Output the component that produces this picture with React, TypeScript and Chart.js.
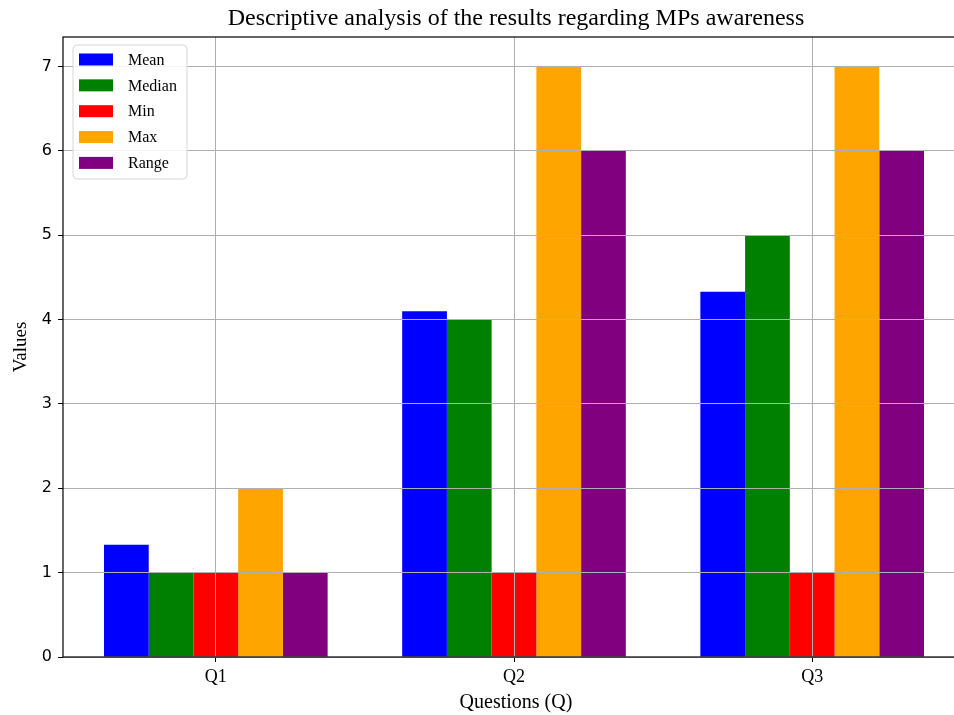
import React, { useEffect, useRef } from "react";
import { Chart, registerables } from "chart.js";

Chart.register(...registerables);

const categories = ["Q1", "Q2", "Q3"];
const seriesNames = ["Mean", "Median", "Min", "Max", "Range"];
const meanValues = [1.33, 4.1, 4.33];
const medianValues = [1, 4, 5];
const minValues = [1, 1, 1];
const maxValues = [2, 7, 7];
const rangeValues = [1, 6, 6];
const yTickValues = [0, 1, 2, 3, 4, 5, 6, 7];
const seriesColors = ["#0000ff", "#008000", "#ff0000", "#ffa500", "#800080"];

const TITLE = "Descriptive analysis of the results regarding MPs awareness";
const X_TITLE = "Questions (Q)";
const Y_TITLE = "Values";

const SERIF = '"Liberation Serif", "Times New Roman", serif';

const decorPlugin = {
  id: "decor",
  afterDraw(chart: any) {
    const { ctx, chartArea: a } = chart;
    ctx.save();
    // frame (spines)
    ctx.strokeStyle = "#000";
    ctx.lineWidth = 1.2;
    ctx.strokeRect(a.left, a.top, a.right - a.left, a.bottom - a.top);

    // titles
    ctx.fillStyle = "#000";
    ctx.textAlign = "center";
    ctx.textBaseline = "middle";
    ctx.font = `24px ${SERIF}`;
    ctx.fillText(TITLE, (a.left + a.right) / 2 + 2, a.top - 18);
    ctx.font = `20px ${SERIF}`;
    ctx.fillText(X_TITLE, (a.left + a.right) / 2 + 2, a.bottom + 46);
    ctx.save();
    ctx.translate(21, (a.top + a.bottom) / 2);
    ctx.rotate(-Math.PI / 2);
    ctx.font = `19px ${SERIF}`;
    ctx.fillText(Y_TITLE, 0, 0);
    ctx.restore();

    // legend
    const lx = a.left + 10;
    const ly = a.top + 8;
    const lw = 114;
    const lh = 134;
    const r = 4;
    ctx.beginPath();
    ctx.moveTo(lx + r, ly);
    ctx.lineTo(lx + lw - r, ly);
    ctx.quadraticCurveTo(lx + lw, ly, lx + lw, ly + r);
    ctx.lineTo(lx + lw, ly + lh - r);
    ctx.quadraticCurveTo(lx + lw, ly + lh, lx + lw - r, ly + lh);
    ctx.lineTo(lx + r, ly + lh);
    ctx.quadraticCurveTo(lx, ly + lh, lx, ly + lh - r);
    ctx.lineTo(lx, ly + r);
    ctx.quadraticCurveTo(lx, ly, lx + r, ly);
    ctx.closePath();
    ctx.fillStyle = "rgba(255,255,255,0.85)";
    ctx.fill();
    ctx.strokeStyle = "#d6d6d6";
    ctx.lineWidth = 1;
    ctx.stroke();

    ctx.font = `16px ${SERIF}`;
    ctx.textAlign = "left";
    ctx.textBaseline = "middle";
    chart.data.datasets.forEach((ds: any, i: number) => {
      const cy = ly + 14.5 + i * 25.85;
      ctx.fillStyle = ds.backgroundColor;
      ctx.fillRect(lx + 6, cy - 6, 34, 12);
      ctx.fillStyle = "#000";
      ctx.fillText(ds.label, lx + 55, cy + 1);
    });
    ctx.restore();
  },
};

export default function App() {
  const canvasRef = useRef<HTMLCanvasElement | null>(null);

  useEffect(() => {
    document.body.style.margin = "0";
    document.body.style.overflow = "hidden";
    const canvas = canvasRef.current;
    if (!canvas) return;
    const allValues = [meanValues, medianValues, minValues, maxValues, rangeValues];
    const datasets = seriesNames.map((name, i) => ({
      label: name,
      data: allValues[i].map((v, j) => ({ x: j, y: v })),
      backgroundColor: seriesColors[i],
      borderWidth: 0,
      categoryPercentage: 0.75,
      barPercentage: 1.0,
    }));

    const chart = new Chart(canvas, {
      type: "bar",
      data: { datasets },
      plugins: [decorPlugin],
      options: {
        animation: false,
        responsive: false,
        maintainAspectRatio: false,
        layout: { padding: { left: 0, top: 37, right: 35, bottom: 0 } },
        plugins: {
          legend: { display: false },
          title: { display: false },
          tooltip: { enabled: false },
        },
        scales: {
          x: {
            type: "linear",
            min: -0.5125,
            max: 2.5125,
            offset: false,
            afterBuildTicks: (scale: any) => {
              scale.ticks = categories.map((_, i) => ({ value: i }));
            },
            afterFit: (scale: any) => {
              scale.height = 715 - 657;
            },
            ticks: {
              callback: (v: any) => categories[Math.round(Number(v))] ?? "",
              font: { family: SERIF, size: 18 },
              color: "#000",
              padding: 4,
              maxRotation: 0,
              autoSkip: false,
            },
            grid: {
              offset: false,
              color: "#b0b0b0",
              lineWidth: 1,
              tickLength: 5,
              tickColor: "#000",
              z: 1,
            },
            border: { display: false },
          },
          y: {
            type: "linear",
            min: 0,
            max: 7.35,
            afterBuildTicks: (scale: any) => {
              scale.ticks = yTickValues.map((v) => ({ value: v }));
            },
            afterFit: (scale: any) => {
              scale.width = 63;
            },
            ticks: {
              font: { family: '"DejaVu Sans", sans-serif', size: 16 },
              color: "#000",
              padding: 6,
            },
            grid: {
              color: "#b0b0b0",
              lineWidth: 1,
              tickLength: 5,
              tickColor: "#000",
              z: 1,
            },
            border: { display: false },
          },
        },
      } as any,
    });
    return () => chart.destroy();
  }, []);

  return (
    <div style={{ position: "fixed", left: 0, top: 0, width: 954, height: 715, overflow: "hidden", background: "#fff" }}>
      <canvas ref={canvasRef} width={1000} height={715} style={{ display: "block" }} />
    </div>
  );
}
